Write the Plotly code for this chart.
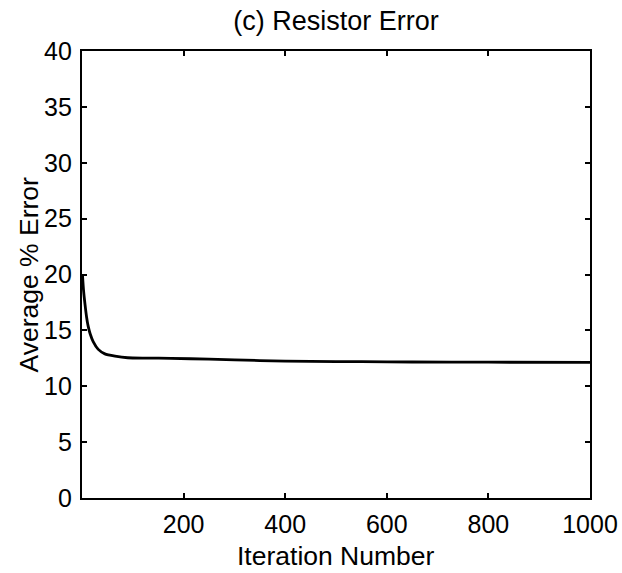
import plotly.graph_objects as go

iterations = [1, 3, 6, 9, 12, 16, 22, 32, 45, 65, 90, 125, 175, 250, 350, 450, 550, 650, 800, 1000]
avg_error = [19.9, 18.6, 17.3, 16.2, 15.4, 14.7, 14.0, 13.3, 12.9, 12.7, 12.55, 12.52, 12.5, 12.42, 12.3, 12.22, 12.2, 12.17, 12.15, 12.13]

x_ticks = [200, 400, 600, 800, 1000]
y_ticks = [0, 5, 10, 15, 20, 25, 30, 35, 40]

FONT = "Liberation Sans, Arial, Helvetica, sans-serif"

fig = go.Figure()
fig.add_trace(go.Scatter(
    x=iterations, y=avg_error, mode="lines",
    line=dict(color="black", width=2.8, shape="spline", smoothing=0.6),
    showlegend=False,
))

axis_common = dict(
    showgrid=False, zeroline=False, showline=True, linecolor="black", linewidth=2.2,
    mirror="ticks", ticks="inside", ticklen=5, tickwidth=1.5, tickcolor="black",
    tickfont=dict(family=FONT, size=25, color="black"), automargin=False,
)

fig.update_layout(
    width=622, height=573,
    margin=dict(l=82, r=32, t=51, b=75),
    paper_bgcolor="white", plot_bgcolor="white",
    title=dict(text="(c) Resistor Error", x=0.5, xref="paper", y=1 - 21 / 573, yref="container",
               yanchor="middle", xanchor="center",
               font=dict(family=FONT, size=27, color="black")),
    xaxis=dict(range=[0, 1000], tickvals=x_ticks, ticklabelstandoff=3, **axis_common),
    yaxis=dict(range=[0, 40], tickvals=y_ticks, ticklabelstandoff=3, **axis_common),
    annotations=[
        dict(text="Iteration Number", xref="paper", yref="paper", x=0.5, y=0,
             xanchor="center", yanchor="middle", yshift=-58, showarrow=False,
             font=dict(family=FONT, size=26.5, color="black")),
        dict(text="Average % Error", xref="paper", yref="paper", x=0, y=0.5,
             xanchor="center", yanchor="middle", xshift=-54, textangle=-90, showarrow=False,
             font=dict(family=FONT, size=26.5, color="black")),
    ],
)

fig.write_html("out.html")
